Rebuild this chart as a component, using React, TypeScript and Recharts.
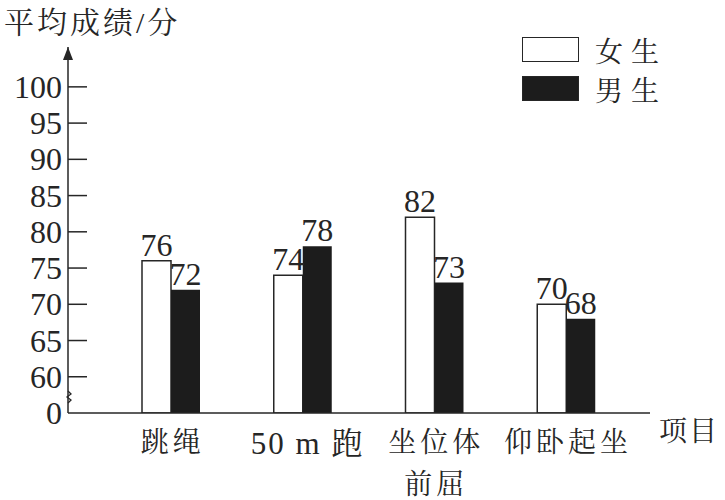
import { Bar, BarChart, LabelList, XAxis, YAxis } from "recharts";

// 项目与成绩（y 轴断开：55 处画作 0）
const items = ["跳绳", "50 m 跑", "坐位体\n前屈", "仰卧起坐"];
const girls = [76, 74, 82, 70];
const boys = [72, 78, 73, 68];
const yTicks = [55, 60, 65, 70, 75, 80, 85, 90, 95, 100];

const data = items.map((item, i) => ({ item, girls: girls[i], boys: boys[i] }));

const SERIF = '"Liberation Serif", "Noto Serif CJK SC", "Noto Sans CJK SC", serif';
const INK = "#262626";
const TOP = 47;
const TICK_GAP = 5;

function YTick(props: any) {
  const { x, y, payload } = props;
  const v = payload.value;
  const ax = x + TICK_GAP;
  return (
    <g>
      <text
        x={x - 1}
        y={y}
        textAnchor="end"
        dominantBaseline="central"
        fontSize={32}
        fontFamily={SERIF}
        fill={INK}
      >
        {v === 55 ? "0" : v}
      </text>
      {v !== 55 && <line x1={ax} x2={ax + 19} y1={y} y2={y} stroke={INK} strokeWidth={1.5} />}
      {v === 55 && (
        <path
          d={`M${ax},${y - 22} l3,3 l-4,3 l4,3 l-3,3`}
          fill="none"
          stroke={INK}
          strokeWidth={1.3}
        />
      )}
      {v === 100 && (
        <path d={`M${ax},${TOP} L${ax - 5},${TOP + 13} L${ax + 5},${TOP + 13}Z`} fill={INK} />
      )}
    </g>
  );
}

function XTick(props: any) {
  const { x, y, payload } = props;
  const label = String(payload.value);
  const lines = label.split("\n");
  const latin = /[0-9a-z]/.test(label);
  return (
    <text
      x={x}
      y={y}
      textAnchor="middle"
      fontSize={latin ? 31 : 28}
      fontFamily={SERIF}
      fill={INK}
      letterSpacing={latin ? 2 : 4}
    >
      {lines.map((l, i) => (
        <tspan key={i} x={x + (latin ? 5 : 2)} dy={i === 0 ? "0.95em" : "1.5em"}>
          {l}
        </tspan>
      ))}
    </text>
  );
}

const legendRows = [
  { name: "女生", fill: "#ffffff" },
  { name: "男生", fill: "#1c1c1c" },
];

export default function App() {
  return (
    <div
      style={{
        position: "absolute",
        left: 0,
        top: 0,
        width: 725,
        height: 500,
        background: "#fff",
      }}
    >
      <div
        style={{
          position: "absolute",
          left: 4,
          top: 5,
          fontFamily: SERIF,
          fontSize: 30,
          letterSpacing: 3,
          color: INK,
          lineHeight: "36px",
        }}
      >
        平均成绩/分
      </div>
      <div
        style={{
          position: "absolute",
          left: 659,
          top: 415,
          fontFamily: SERIF,
          fontSize: 28,
          letterSpacing: 2,
          color: INK,
          lineHeight: "34px",
        }}
      >
        项目
      </div>
      <div
        style={{
          position: "absolute",
          left: 522,
          top: 30,
          fontFamily: SERIF,
          color: INK,
          zIndex: 1,
        }}
      >
        {legendRows.map((r) => (
          <div key={r.name} style={{ display: "flex", alignItems: "center", height: 39 }}>
            <div
              style={{
                width: 55,
                height: 23,
                background: r.fill,
                border: `1.5px solid ${INK}`,
                marginRight: 16,
              }}
            />
            <span style={{ fontSize: 28, letterSpacing: 8 }}>{r.name}</span>
          </div>
        ))}
      </div>
      <BarChart
        width={725}
        height={500}
        data={data}
        margin={{ top: TOP, right: 75, bottom: 7, left: 8 }}
        barGap={0}
      >
        <XAxis
          dataKey="item"
          axisLine={{ stroke: INK, strokeWidth: 1.5 }}
          tickLine={false}
          tickSize={0}
          tickMargin={12}
          height={80}
          padding={{ left: 37, right: 18 }}
          tick={<XTick />}
          interval={0}
        />
        <YAxis
          domain={[55, 105.5]}
          allowDataOverflow
          ticks={yTicks}
          width={60}
          axisLine={{ stroke: INK, strokeWidth: 1.5 }}
          tickLine={false}
          tickSize={0}
          tickMargin={TICK_GAP}
          tick={<YTick />}
          interval={0}
        />
        <Bar
          dataKey="girls"
          name="女生"
          fill="#ffffff"
          stroke={INK}
          strokeWidth={1.5}
          barSize={29}
          isAnimationActive={false}
        >
          <LabelList dataKey="girls" position="top" offset={5} fontSize={32} fontFamily={SERIF} fill={INK} />
        </Bar>
        <Bar dataKey="boys" name="男生" fill="#1c1c1c" barSize={29} isAnimationActive={false}>
          <LabelList dataKey="boys" position="top" offset={5} fontSize={32} fontFamily={SERIF} fill={INK} />
        </Bar>
      </BarChart>
    </div>
  );
}
